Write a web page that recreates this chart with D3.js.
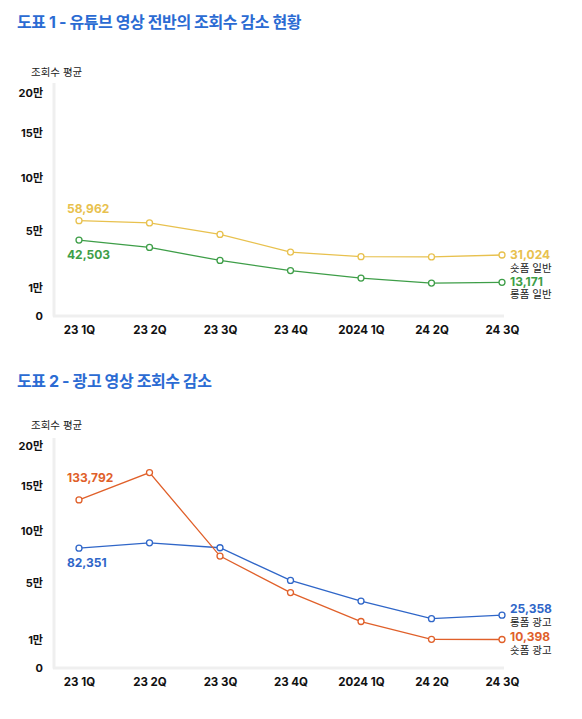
<!DOCTYPE html>
<html>
<head>
<meta charset="utf-8">
<script src="https://cdn.jsdelivr.net/npm/d3@7"></script>
<style>
  body { margin: 0; background: #fff; }
  text { font-family: Inter, "Noto Sans CJK KR", sans-serif; }
</style>
</head>
<body>
<script>
// quarters on the x axis
var quarters = ["23 1Q", "23 2Q", "23 3Q", "23 4Q", "2024 1Q", "24 2Q", "24 3Q"];
var yTicks = [0, 10000, 50000, 100000, 150000, 200000];
var yTickLabels = ["0", "1만", "5만", "10만", "15만", "20만"];

// 도표 1
var shortGeneral = [58962, 57000, 47100, 33200, 29800, 29600, 31024];
var longGeneral  = [42503, 36700, 27100, 20300, 15600, 12700, 13171];
// 도표 2
var longAd  = [82351, 87700, 82800, 52500, 35700, 23000, 25358];
var shortAd = [133792, 166100, 74700, 42400, 21100, 10500, 10398];

var width = 582;
var height = 719;
var fmt = d3.format(",");
var font = "Inter, \"Noto Sans CJK KR\", sans-serif";

var svg = d3.select("body")
    .append("svg")
        .attr("width", width)
        .attr("height", height);

var x = d3.scalePoint()
    .domain(quarters)
    .range([79, 502]);

function drawChart(opt) {
  var g = svg.append("g");

  g.append("text")
      .attr("x", 17)
      .attr("y", opt.titleY)
      .attr("dominant-baseline", "central")
      .attr("font-size", 16)
      .attr("font-weight", 700)
      .attr("letter-spacing", -0.4)
      .attr("fill", "#2b6bd3")
      .text(opt.title);

  g.append("text")
      .attr("x", 31)
      .attr("y", opt.unitY)
      .attr("dominant-baseline", "central")
      .attr("font-size", 10.5)
      .attr("fill", "#222")
      .text("조회수 평균");

  var base = opt.base;
  var y = d3.scalePow()
      .exponent(0.7)
      .domain([0, 200000])
      .range([base, base - opt.span]);

  // light frame
  g.append("line")
      .attr("x1", 54).attr("x2", 54)
      .attr("y1", opt.axisTop).attr("y2", base + 1)
      .attr("stroke", "#efefef")
      .attr("stroke-width", 3);
  g.append("line")
      .attr("x1", 53).attr("x2", 504)
      .attr("y1", base + 0.5).attr("y2", base + 0.5)
      .attr("stroke", "#efefef")
      .attr("stroke-width", 3);

  var yAxis = d3.axisLeft(y)
      .tickValues(yTicks)
      .tickSize(0)
      .tickPadding(0)
      .tickFormat(function (d, i) { return yTickLabels[i]; });

  g.append("g")
      .attr("transform", "translate(43,0)")
      .call(yAxis)
      .call(function (s) { s.select(".domain").remove(); })
      .selectAll("text")
          .attr("font-family", font)
          .attr("font-size", 11)
          .attr("font-weight", 700)
          .attr("fill", "#111");

  var xAxis = d3.axisBottom(x)
      .tickSize(0)
      .tickPadding(0);

  g.append("g")
      .attr("transform", "translate(0," + (base + 10) + ")")
      .call(xAxis)
      .call(function (s) { s.select(".domain").remove(); })
      .selectAll("text")
          .attr("font-family", font)
          .attr("font-size", 11.5)
          .attr("font-weight", 700)
          .attr("fill", "#111");

  var line = d3.line()
      .x(function (d, i) { return x(quarters[i]); })
      .y(function (d) { return y(d); });

  opt.series.forEach(function (s) {
    g.append("path")
        .datum(s.values)
        .attr("fill", "none")
        .attr("stroke", s.color)
        .attr("stroke-width", 1.3)
        .attr("d", line);

    g.selectAll(null)
        .data(s.values)
        .enter().append("circle")
            .attr("cx", function (d, i) { return x(quarters[i]); })
            .attr("cy", function (d) { return y(d); })
            .attr("r", 3)
            .attr("fill", "#fff")
            .attr("stroke", s.color)
            .attr("stroke-width", 1.3);

    var first = s.values[0];
    var last = s.values[s.values.length - 1];

    g.append("text")
        .attr("x", 67)
        .attr("y", y(first) + s.startDy)
        .attr("dominant-baseline", "central")
        .attr("font-size", 12)
        .attr("font-weight", 700)
        .attr("fill", s.color)
        .text(fmt(first));

    g.append("text")
        .attr("x", 510)
        .attr("y", y(last) + s.endDy)
        .attr("dominant-baseline", "central")
        .attr("font-size", 12)
        .attr("font-weight", 700)
        .attr("fill", s.color)
        .text(fmt(last));

    g.append("text")
        .attr("x", 510)
        .attr("y", y(last) + s.endDy + 13.5)
        .attr("dominant-baseline", "central")
        .attr("font-size", 10.5)
        .attr("fill", "#222")
        .text(s.name);
  });
}

drawChart({
  titleY: 22, unitY: 72, axisTop: 83, base: 315.5, span: 223,
  title: "도표 1 - 유튜브 영상 전반의 조회수 감소 현황",
  series: [
    { name: "숏폼 일반", values: shortGeneral, color: "#e8c14e", startDy: -12, endDy: 0 },
    { name: "롱폼 일반", values: longGeneral, color: "#3e9e48", startDy: 14, endDy: -1 }
  ]
});

drawChart({
  titleY: 381, unitY: 425.5, axisTop: 438, base: 667.5, span: 222,
  title: "도표 2 - 광고 영상 조회수 감소",
  series: [
    { name: "롱폼 광고", values: longAd, color: "#2f66c8", startDy: 14, endDy: -6.5 },
    { name: "숏폼 광고", values: shortAd, color: "#e0602a", startDy: -22, endDy: -2.5 }
  ]
});
</script>
</body>
</html>
